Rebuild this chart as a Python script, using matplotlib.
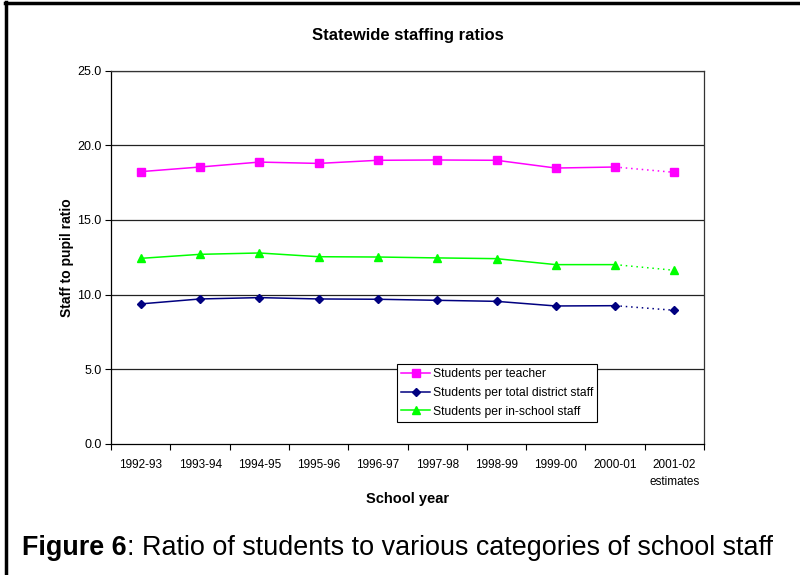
import matplotlib
matplotlib.use("Agg")
import matplotlib.pyplot as plt
from matplotlib import font_manager
from matplotlib.lines import Line2D
import numpy as np

years = ["1992-93", "1993-94", "1994-95", "1995-96", "1996-97",
         "1997-98", "1998-99", "1999-00", "2000-01", "2001-02\nestimates"]
per_teacher = [18.24, 18.55, 18.88, 18.79, 19.00, 19.02, 19.00, 18.48, 18.55, 18.19]
per_district_staff = [9.38, 9.71, 9.80, 9.71, 9.69, 9.62, 9.55, 9.24, 9.26, 8.95]
per_in_school_staff = [12.43, 12.70, 12.79, 12.54, 12.52, 12.46, 12.41, 12.01, 12.01, 11.63]
series_names = ["Students per teacher", "Students per total district staff",
                "Students per in-school staff"]

available = {f.name for f in font_manager.fontManager.ttflist}
base = "Liberation Sans" if "Liberation Sans" in available else "DejaVu Sans"
narrow = "Liberation Sans Narrow" if "Liberation Sans Narrow" in available else base
plt.rcParams["font.family"] = [base, "DejaVu Sans"]

fig = plt.figure(figsize=(8.0, 5.75), dpi=100)
ax = fig.add_axes([0.139, 0.228, 0.741, 0.649])

x = np.arange(len(years))
styles = [
    (per_teacher, "#FF00FF", "s", 5.2),
    (per_district_staff, "#000080", "D", 3.6),
    (per_in_school_staff, "#00FF00", "^", 6.0),
]
handles = []
for (vals, color, marker, ms), name in zip(styles, series_names):
    ax.plot(x[:-1], vals[:-1], color=color, lw=1.1, marker=marker, ms=ms,
            markeredgecolor=color, zorder=3)
    ax.plot(x[-2:], vals[-2:], color=color, lw=1.1, ls=(0, (1, 2.5)), zorder=3)
    ax.plot(x[-1], vals[-1], color=color, marker=marker, ms=ms,
            markeredgecolor=color, ls="none", zorder=3)
    handles.append(Line2D([], [], color=color, lw=1.1, marker=marker, ms=ms,
                          markeredgecolor=color, label=name))

ax.set_xlim(-0.5, len(years) - 0.5)
ax.set_ylim(0, 25)
ax.set_yticks(np.arange(0, 25.1, 5))
ax.set_yticklabels([f"{v:.1f}" for v in np.arange(0, 25.1, 5)], fontsize=9)
for yv in np.arange(5, 25.1, 5):
    ax.axhline(yv, color="#222222", lw=0.9, zorder=1)

ax.set_xticks(np.arange(-0.5, len(years), 1.0))
ax.set_xticklabels([])
ax.set_xticks(x, minor=True)
ax.set_xticklabels(years, minor=True, fontsize=8.5, family=[narrow, "DejaVu Sans"],
                   linespacing=1.55, va="top")
ax.tick_params(axis="x", which="major", direction="out", length=4, width=0.8)
ax.tick_params(axis="x", which="minor", length=0, pad=11)
ax.tick_params(axis="y", direction="out", length=4, width=0.8, pad=3)

for side in ["left", "bottom"]:
    ax.spines[side].set_color("black")
    ax.spines[side].set_linewidth(0.9)
for side in ["top", "right"]:
    ax.spines[side].set_color("#333333")
    ax.spines[side].set_linewidth(0.9)

ax.set_title("Statewide staffing ratios", fontsize=12, fontweight="heavy", pad=22)
ax.set_xlabel("School year", fontsize=10.5, fontweight="bold", labelpad=3)
ax.set_ylabel("Staff to pupil ratio", fontsize=10, fontweight="bold", labelpad=2)

leg = ax.legend(handles=handles, loc="lower left", bbox_to_anchor=(0.482, 0.059),
                fontsize=8.7, frameon=True, fancybox=False, handlelength=2.4,
                handletextpad=0.2, borderpad=0.35, labelspacing=0.55,
                borderaxespad=0)
leg.get_frame().set_edgecolor("black")
leg.get_frame().set_linewidth(0.8)
leg.get_frame().set_alpha(1)

cap_y = 1 - 548 / 575
t1 = fig.text(22 / 800, cap_y, "Figure 6", fontsize=19.4, fontweight="bold", va="center")
fig.canvas.draw()
bb = t1.get_window_extent()
fig.text(bb.x1 / 800, cap_y, ": Ratio of students to various categories of school staff",
         fontsize=19.4, va="center")

# figure frame: top and left rules
fig.add_artist(Line2D([6 / 800, 6 / 800], [0, 1 - 2 / 575], color="black", lw=2.5,
                      transform=fig.transFigure))
fig.add_artist(Line2D([5 / 800, 799 / 800], [1 - 3 / 575, 1 - 3 / 575], color="black",
                      lw=2.5, transform=fig.transFigure))

fig.savefig("out.png", dpi=100)
